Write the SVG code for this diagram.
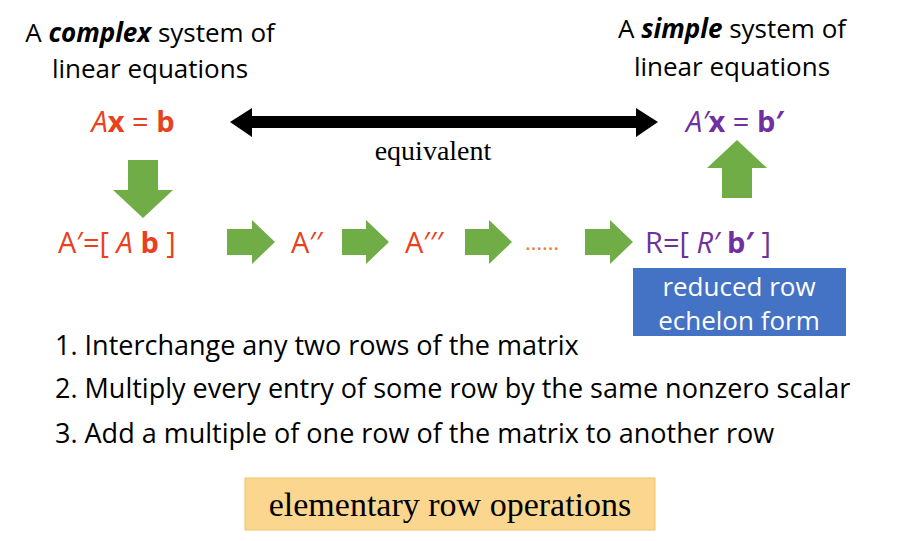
<svg xmlns="http://www.w3.org/2000/svg" width="907" height="541" viewBox="0 0 907 541">
<style>
.s{font-family:"Open Sans","Liberation Sans",sans-serif;font-size:26px}
.e{font-size:29px}
.l{font-size:27px}
.r{fill:#E8411E}.p{fill:#7030A0}
.g{fill:#70AD47}
.t{font-family:"Liberation Serif",serif}
</style>
<rect width="907" height="541" fill="#fff"/>
<g id="left-title"><text class="s" x="150" y="42" text-anchor="middle">A <tspan font-weight="bold" font-style="italic">complex</tspan> system of</text><text class="s" x="150" y="78" text-anchor="middle">linear equations</text></g>
<g id="right-title"><text class="s" x="732" y="38" text-anchor="middle">A <tspan font-weight="bold" font-style="italic">simple</tspan> system of</text><text class="s" x="732" y="76" text-anchor="middle">linear equations</text></g>
<g id="axb"><text class="s e r" x="133" y="132" text-anchor="middle"><tspan font-style="italic">A</tspan><tspan font-weight="bold">x</tspan> = <tspan font-weight="bold">b</tspan></text></g>
<g id="apxbp"><text class="s e p" x="735" y="132" text-anchor="middle"><tspan font-style="italic">A′</tspan><tspan font-weight="bold">x</tspan> = <tspan font-weight="bold">b′</tspan></text></g>
<g id="connectors">
<polygon points="230,122 252,108 252,116 636,116 636,108 658,122 636,137 636,128 252,128 252,137" fill="#000"/>
<text class="t" x="433" y="160" text-anchor="middle" style="font-size:28px">equivalent</text>
<polygon class="g" points="128,160 158,160 158,190 173,190 143,218 113,190 128,190"/>
<polygon class="g" points="722,198 752,198 752,168 767,168 737,140 707,168 722,168"/>
<polygon class="g" points="227,229 252,229 252,220 275,242 252,264 252,255 227,255"/>
<polygon class="g" points="342,229 366,229 366,220 389,242 366,264 366,255 342,255"/>
<polygon class="g" points="465,229 489,229 489,220 512,242 489,264 489,255 465,255"/>
<polygon class="g" points="585,229 610,229 610,220 633,242 610,264 610,255 585,255"/>
</g>
<g id="a1"><text class="s e r" x="58" y="253">A′=[ <tspan font-style="italic">A</tspan>  <tspan font-weight="bold">b</tspan> ]</text></g>
<g id="a2"><text class="s e r" x="291" y="253">A′′</text></g>
<g id="a3"><text class="s e r" x="405" y="253">A′′′</text></g>
<g id="dots"><text class="s" x="525" y="250" style="font-size:22px" fill="#ED7D31">……</text></g>
<g id="r"><text class="s e p" x="645" y="253">R=[ <tspan font-style="italic">R′</tspan> <tspan font-weight="bold">b′</tspan> ]</text></g>
<g id="rref"><rect x="633" y="268" width="213" height="68" fill="#4472C4"/><text class="s" x="739" y="296" text-anchor="middle" fill="#fff">reduced row</text><text class="s" x="739" y="330" text-anchor="middle" fill="#fff">echelon form</text></g>
<g id="ops">
<text class="s l" x="55" y="355">1. Interchange any two rows of the matrix</text>
<text class="s l" x="55" y="398">2. Multiply every entry of some row by the same nonzero scalar</text>
<text class="s l" x="55" y="443">3. Add a multiple of one row of the matrix to another row</text>
</g>
<g id="ero"><rect x="245" y="478" width="410" height="52" fill="#FBD68F" stroke="#E9C46A"/><text class="t" x="450" y="516" text-anchor="middle" style="font-size:34px">elementary row operations</text></g>
</svg>
